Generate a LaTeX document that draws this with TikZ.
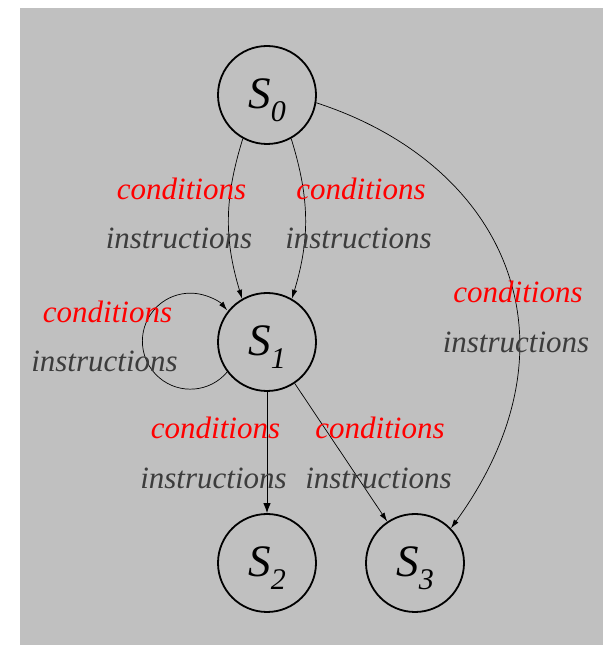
\documentclass[tikz,border=0pt]{standalone}
\usepackage{fontspec}
\setmainfont{Liberation Serif}
\usetikzlibrary{arrows.meta}
\definecolor{bggray}{RGB}{192,192,192}
\definecolor{instrgray}{RGB}{60,60,60}
\newcommand{\stlabel}[1]{\fontsize{45}{45}\selectfont\itshape S\raisebox{-13pt}{\fontsize{30}{30}\selectfont #1}}
\tikzset{
  state/.style={circle, draw=black, line width=1.8pt, minimum size=98pt, inner sep=0pt,
    text height=31pt, text depth=3pt},
  condlabel/.style={anchor=base, inner sep=0pt, text=red, font=\fontsize{31}{31}\selectfont\itshape},
  instrlabel/.style={anchor=base, inner sep=0pt, text=instrgray, font=\fontsize{31}{31}\selectfont\itshape},
  trans/.style={line width=0.7pt, -{Latex[length=9pt,width=5.5pt]}},
  transbig/.style={line width=0.9pt, -{Latex[length=10pt,width=7.5pt]}}
}
\begin{document}
\begin{tikzpicture}[x=1pt,y=1pt]
\useasboundingbox (0,0) rectangle (605,647);
\fill[bggray] (20,2) rectangle (603,639);

\node[state] (S0) at (267,552) {\stlabel{0}};
\node[state] (S1) at (267,305) {\stlabel{1}};
\node[state] (S2) at (267,84) {\stlabel{2}};
\node[state] (S3) at (415,84) {\stlabel{3}};

\draw[trans] (S0.241) to[bend right=17] (S1.120);
\draw[trans] (S0.299) to[bend left=17] (S1.60);
\draw[trans] (S1.217.5) arc[start angle=-40, end angle=-320, radius=48];
\draw[transbig] (S1) -- (S2);
\draw[trans] (S1) -- (S3);
\draw[trans] (S0.-9) .. controls +(-18:200) and +(54:230) .. (S3.44);

\node[condlabel] (c1) at (181.5,447.5) {conditions};
\node[instrlabel] (i1) at (179,398.5) {instructions};
\node[condlabel] (c2) at (361,447.5) {conditions};
\node[instrlabel] (i2) at (358.5,398.5) {instructions};
\node[condlabel] (c3) at (107.5,324.5) {conditions};
\node[instrlabel] (i3) at (104.5,275.5) {instructions};
\node[condlabel] (c4) at (215.5,208.5) {conditions};
\node[instrlabel] (i4) at (213.5,158.5) {instructions};
\node[condlabel] (c5) at (380,208.5) {conditions};
\node[instrlabel] (i5) at (378.5,158.5) {instructions};
\node[condlabel] (c6) at (518,344.5) {conditions};
\node[instrlabel] (i6) at (516,294.5) {instructions};
\end{tikzpicture}
\end{document}
